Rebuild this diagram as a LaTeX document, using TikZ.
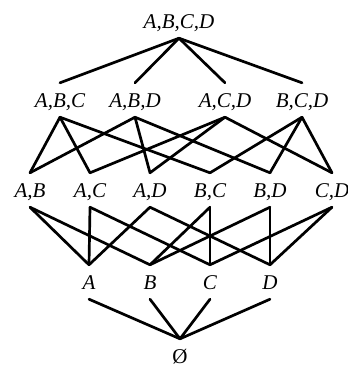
\documentclass[tikz,border=0pt]{standalone}
\usepackage{fontspec}
\setmainfont{Liberation Serif}
\begin{document}
\begin{tikzpicture}[x=1pt,y=-1pt,
  setnode/.style={inner sep=0pt, minimum height=34pt, text height=14pt, text depth=0pt, font=\fontsize{21}{21}\selectfont\itshape},
  edge/.style={line width=2.7pt, line cap=round, line join=round}]
\useasboundingbox (0,0) rectangle (348,367);
\node[setnode] (abcd) at (179,21) {A,B,C,D};
\node[setnode] (abc) at (60,100) {A,B,C};
\node[setnode] (abd) at (135,100) {A,B,D};
\node[setnode] (acd) at (225,100) {A,C,D};
\node[setnode] (bcd) at (302,100) {B,C,D};
\node[setnode] (ab) at (30,190) {A,B};
\node[setnode] (ac) at (90,190) {A,C};
\node[setnode] (ad) at (150,190) {A,D};
\node[setnode] (bc) at (210,190) {B,C};
\node[setnode] (bd) at (270,190) {B,D};
\node[setnode] (cd) at (332,190) {C,D};
\node[setnode] (a) at (89,282) {A};
\node[setnode] (b) at (150,282) {B};
\node[setnode] (c) at (210,282) {C};
\node[setnode] (d) at (270,282) {D};
\node[setnode, font=\fontsize{21}{21}\selectfont] (e) at (180,356) {Ø};
\foreach \u/\l in {abcd/abc, abcd/abd, abcd/acd, abcd/bcd,
  abc/ab, abc/ac, abc/bc, abd/ab, abd/ad, abd/bd,
  acd/ac, acd/ad, acd/cd, bcd/bc, bcd/bd, bcd/cd,
  ab/a, ab/b, ac/a, ac/c, ad/a, ad/d, bc/b, bc/c, bd/b, bd/d, cd/c, cd/d,
  a/e, b/e, c/e, d/e}
  \draw[edge] (\u.south) -- (\l.north);
\end{tikzpicture}
\end{document}
